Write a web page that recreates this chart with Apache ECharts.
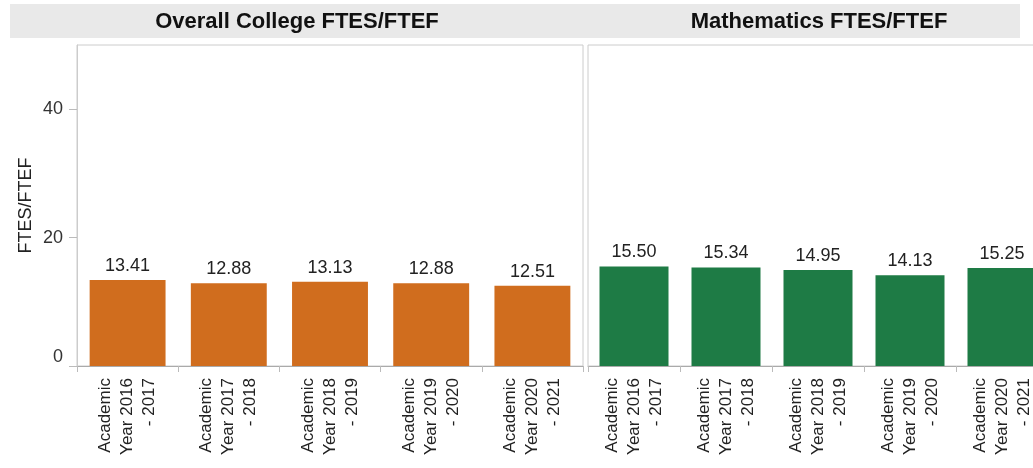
<!DOCTYPE html>
<html>
<head>
<meta charset="utf-8">
<script src="https://cdn.jsdelivr.net/npm/echarts@6/dist/echarts.min.js"></script>
<style>
    html, body { margin: 0; padding: 0; background: #fff; }
    #main { width: 1033px; height: 468px; }
</style>
</head>
<body>
<div id="main"></div>
<script>
    // 数据
    var years = [
        'Academic\nYear 2016\n- 2017',
        'Academic\nYear 2017\n- 2018',
        'Academic\nYear 2018\n- 2019',
        'Academic\nYear 2019\n- 2020',
        'Academic\nYear 2020\n- 2021'
    ];
    var collegeVals = [13.41, 12.88, 13.13, 12.88, 12.51];
    var mathVals = [15.50, 15.34, 14.95, 14.13, 15.25];
    var panelTitles = ['Overall College FTES/FTEF', 'Mathematics FTES/FTEF'];
    var yTicks = [0, 20, 40];

    var font = 'Arial, "Liberation Sans", sans-serif';
    var myChart = echarts.init(document.getElementById('main'));

    function xAxisFor(idx) {
        return {
            type: 'category',
            gridIndex: idx,
            data: years,
            axisLine: { lineStyle: { color: '#aaa' } },
            axisTick: { show: true, length: 6, lineStyle: { color: '#bbb' } },
            axisLabel: {
                rotate: 90,
                interval: 0,
                margin: 12,
                fontSize: 17,
                lineHeight: 22,
                color: '#222',
                fontFamily: font
            }
        };
    }

    function barSeries(idx, vals, color) {
        return {
            type: 'bar',
            xAxisIndex: idx,
            yAxisIndex: idx,
            data: vals,
            barCategoryGap: '25%',
            itemStyle: { color: color },
            label: {
                show: true,
                position: 'top',
                distance: 5,
                fontSize: 18,
                color: '#222',
                fontFamily: font,
                formatter: function (p) { return p.value.toFixed(2); }
            }
        };
    }

    var option = {
        animation: false,
        graphic: [
            {
                type: 'rect',
                shape: { x: 10, y: 4, width: 1010, height: 34 },
                style: { fill: '#e9e9e9' },
                z: -1
            },
            {
                type: 'text',
                x: 297, y: 22,
                style: {
                    text: panelTitles[0], fill: '#111', font: 'bold 22px ' + font,
                    textAlign: 'center', textVerticalAlign: 'middle'
                }
            },
            {
                type: 'text',
                x: 819, y: 22,
                style: {
                    text: panelTitles[1], fill: '#111', font: 'bold 22px ' + font,
                    textAlign: 'center', textVerticalAlign: 'middle'
                }
            }
        ],
        grid: [
            { left: 77, top: 45, width: 506, bottom: 102, show: true, borderColor: '#ccc', backgroundColor: '#fff', outerBoundsMode: 'none' },
            { left: 588, top: 45, width: 460, bottom: 102, show: true, borderColor: '#ccc', backgroundColor: '#fff', outerBoundsMode: 'none' }
        ],
        xAxis: [xAxisFor(0), xAxisFor(1)],
        yAxis: [
            {
                type: 'value',
                gridIndex: 0,
                min: yTicks[0],
                max: 50,
                interval: yTicks[1] - yTicks[0],
                name: 'FTES/FTEF',
                nameLocation: 'middle',
                nameGap: 42,
                nameTextStyle: { fontSize: 18, color: '#222', fontFamily: font },
                axisLine: { show: true, lineStyle: { color: '#ccc' } },
                axisTick: { show: true, length: 8, lineStyle: { color: '#bbb' } },
                axisLabel: {
                    fontSize: 18, color: '#333', fontFamily: font, margin: 14,
                    showMaxLabel: false, verticalAlignMinLabel: 'bottom'
                },
                splitLine: { show: false }
            },
            {
                type: 'value',
                gridIndex: 1,
                min: 0,
                max: 50,
                interval: 20,
                axisLine: { show: false },
                axisTick: { show: false },
                axisLabel: { show: false },
                splitLine: { show: false }
            }
        ],
        series: [
            barSeries(0, collegeVals, '#d06d1e'),
            barSeries(1, mathVals, '#1e7b45')
        ]
    };

    myChart.setOption(option);
</script>
</body>
</html>
